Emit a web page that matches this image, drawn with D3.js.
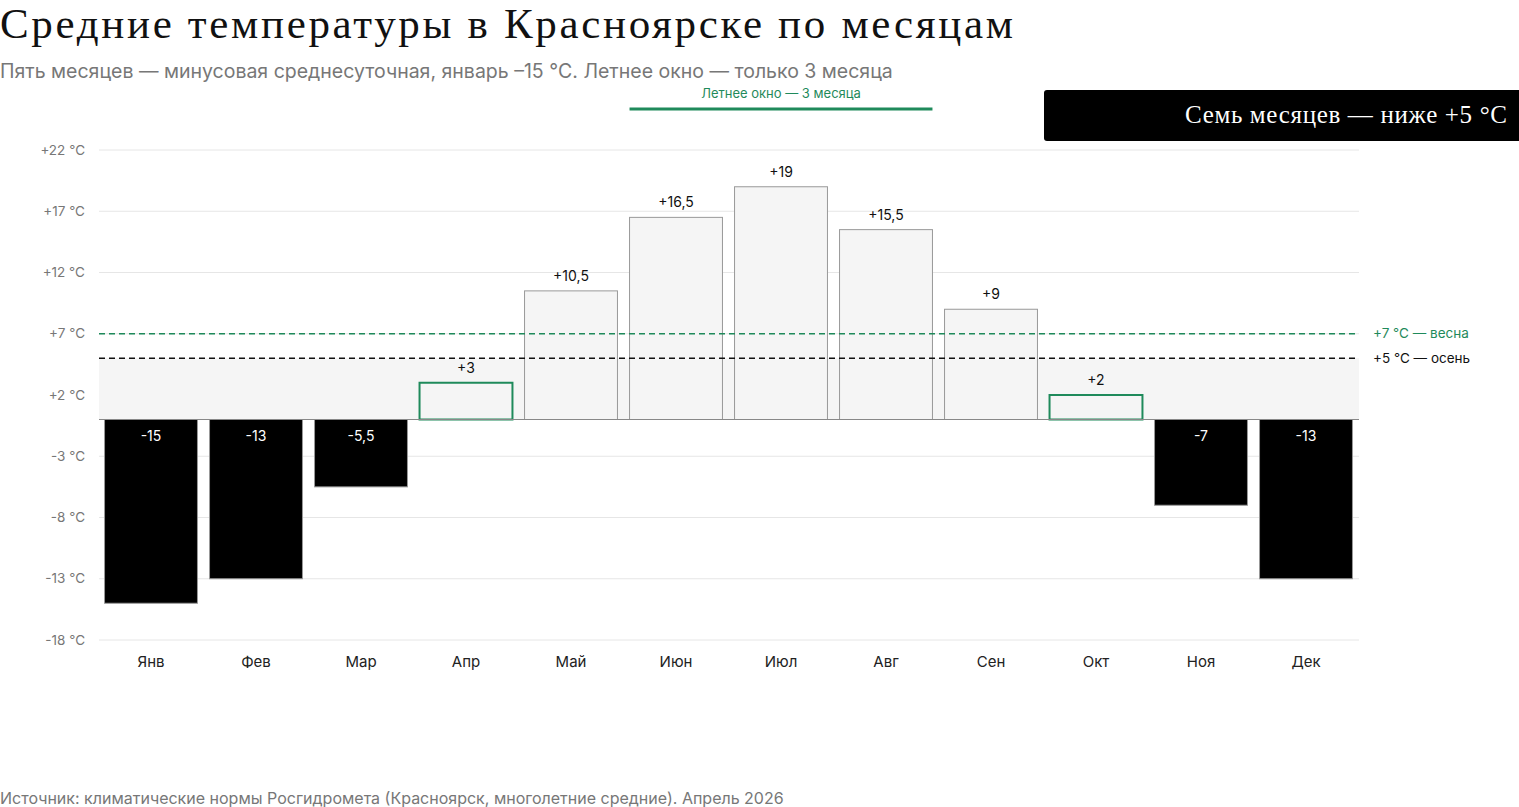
<!DOCTYPE html>
<html><head><meta charset="utf-8">
<script src="https://cdn.jsdelivr.net/npm/d3@7"></script>
<style>body{margin:0;background:#fff}svg{display:block}</style>
</head><body>
<svg id="c" width="1519" height="807"></svg>
<script>
const months = ["Янв","Фев","Мар","Апр","Май","Июн","Июл","Авг","Сен","Окт","Ноя","Дек"];
const temps = [-15,-13,-5.5,3,10.5,16.5,19,15.5,9,2,-7,-13];
const labels = ["-15","-13","-5,5","+3","+10,5","+16,5","+19","+15,5","+9","+2","-7","-13"];
const tickValues = [-18,-13,-8,-3,2,7,12,17,22];
const thresholds = [{v:7,label:"+7 °C — весна",color:"#1f8a5b"},{v:5,label:"+5 °C — осень",color:"#111"}];
const summerMonths = ["Июн","Авг"];
const transitionMonths = ["Апр","Окт"];

const svg = d3.select("#c");
const sans = "Inter, 'Noto Sans', sans-serif";
const serif = "'Liberation Serif', 'DejaVu Serif', serif";
const green = "#1f8a5b";

const x = d3.scaleBand().domain(months).range([98.5,1358.5]).paddingInner(0.115).paddingOuter(0.0575);
const y = d3.scaleLinear().domain([-18,22]).range([640,150]);

// title
svg.append("text").attr("x",0).attr("y",38).attr("font-family",serif).attr("font-size",43).attr("fill","#111")
  .attr("textLength",1013).attr("lengthAdjust","spacing")
  .text("Средние температуры в Красноярске по месяцам");
svg.append("text").attr("x",0).attr("y",78).attr("font-family",sans).attr("font-size",19.5).attr("fill","#777")
  .text("Пять месяцев — минусовая среднесуточная, январь –15 °C. Летнее окно — только 3 месяца");

// grid
const g = svg.append("g");
g.selectAll("line.grid").data(tickValues).join("line").attr("class","grid")
  .attr("x1",99).attr("x2",1359).attr("y1",d=>y(d)).attr("y2",d=>y(d))
  .attr("stroke","#e6e6e6").attr("stroke-width",1);
g.selectAll("text.tick").data(tickValues).join("text").attr("class","tick")
  .attr("x",85).attr("y",d=>y(d)).attr("dy","0.35em").attr("text-anchor","end")
  .attr("font-family",sans).attr("font-size",13.5).attr("fill","#777")
  .text(d=>(d>0?"+":"")+d+" °C");

// band 0..5
g.append("rect").attr("x",99).attr("width",1260).attr("y",y(5)).attr("height",y(0)-y(5)).attr("fill","#f5f5f5");

// bars
g.selectAll("rect.bar").data(months).join("rect").attr("class","bar")
  .attr("x",d=>x(d)).attr("width",x.bandwidth())
  .attr("y",(d,i)=>y(Math.max(0,temps[i])))
  .attr("height",(d,i)=>Math.abs(y(temps[i])-y(0)))
  .attr("fill",(d,i)=>temps[i]<0?"#000":"#f5f5f5")
  .attr("stroke",d=>transitionMonths.includes(d)?green:"#999")
  .attr("stroke-width",d=>transitionMonths.includes(d)?2:1);

// baseline
g.append("line").attr("x1",99).attr("x2",1359).attr("y1",y(0)).attr("y2",y(0)).attr("stroke","#888").attr("stroke-width",1);

// thresholds
thresholds.forEach(t=>{
  g.append("line").attr("x1",99).attr("x2",1359).attr("y1",y(t.v)).attr("y2",y(t.v))
   .attr("stroke",t.color).attr("stroke-width",1.3).attr("stroke-dasharray","6,4");
  g.append("text").attr("x",1373).attr("y",y(t.v)).attr("dy","0.35em").attr("font-family",sans)
   .attr("font-size",13.5).attr("fill",t.color).text(t.label);
});

// value labels
g.selectAll("text.val").data(months).join("text").attr("class","val")
  .attr("x",d=>x(d)+x.bandwidth()/2)
  .attr("y",(d,i)=>temps[i]<0?y(0)+17:y(temps[i])-10)
  .attr("dy",(d,i)=>temps[i]<0?"0.35em":"0")
  .attr("text-anchor","middle").attr("font-family",sans).attr("font-size",14)
  .attr("fill",(d,i)=>temps[i]<0?"#fff":"#111")
  .text((d,i)=>labels[i]);

// month axis
g.selectAll("text.month").data(months).join("text").attr("class","month")
  .attr("x",d=>x(d)+x.bandwidth()/2).attr("y",662).attr("dy","0.35em").attr("text-anchor","middle")
  .attr("font-family",sans).attr("font-size",15).attr("fill","#222").text(d=>d);

// summer window
const sx0 = x(summerMonths[0]), sx1 = x(summerMonths[1])+x.bandwidth();
svg.append("line").attr("x1",sx0).attr("x2",sx1).attr("y1",109).attr("y2",109).attr("stroke",green).attr("stroke-width",3);
svg.append("text").attr("x",(sx0+sx1)/2).attr("y",93).attr("dy","0.35em").attr("text-anchor","middle")
  .attr("font-family",sans).attr("font-size",13).attr("fill",green).text("Летнее окно — 3 месяца");

// black callout
svg.append("rect").attr("x",1044).attr("y",90).attr("width",490).attr("height",51).attr("rx",3).attr("fill","#000");
svg.append("text").attr("x",1507).attr("y",123).attr("text-anchor","end")
  .attr("font-family",serif).attr("font-size",25).attr("fill","#fff")
  .attr("textLength",322).attr("lengthAdjust","spacing").text("Семь месяцев — ниже +5 °C");

// footer
svg.append("text").attr("x",0).attr("y",804).attr("font-family",sans).attr("font-size",16).attr("fill","#777")
  .text("Источник: климатические нормы Росгидромета (Красноярск, многолетние средние). Апрель 2026");
</script>
</body></html>
